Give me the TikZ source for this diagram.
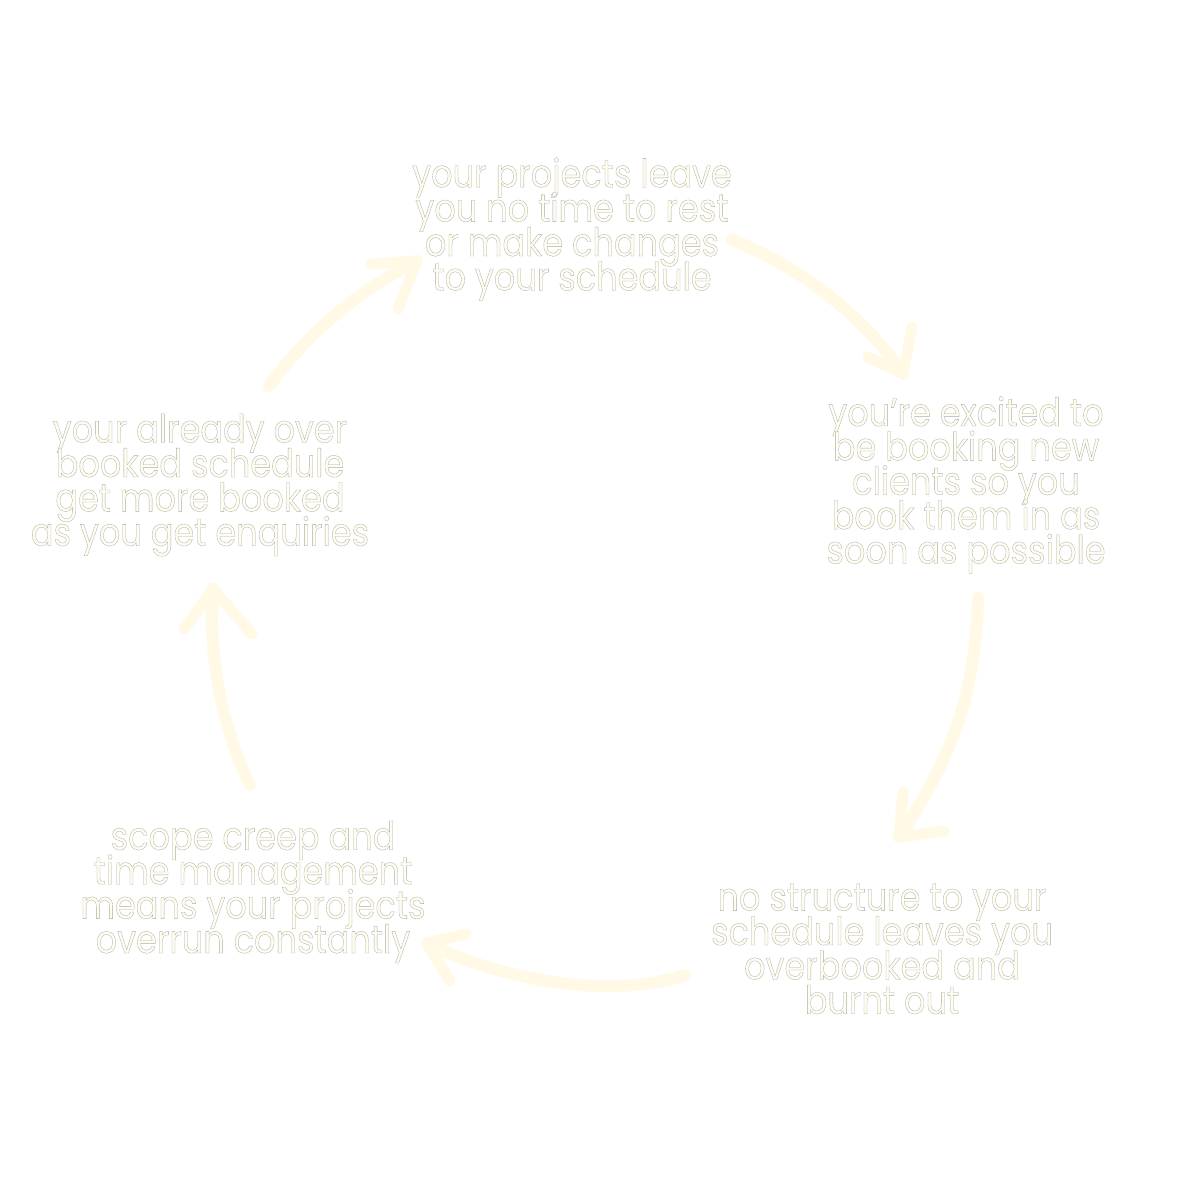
\documentclass[tikz,border=0pt]{standalone}
\usepackage{fontspec}
\setmainfont{Poppins}[FakeStretch=0.86,FakeBold=0.8]
\definecolor{cream}{HTML}{FFFDF0}
\definecolor{brushc}{HTML}{FFF9E6}
\newcommand{\olt}[1]{\textcolor{cream}{\special{pdf:literal direct 0.68 0.68 0.65 RG}#1}}
\newcommand{\tightlines}{\fontsize{19.5pt}{17.2pt}\selectfont\lineskiplimit=-30pt\relax\lineskip=0pt\relax}
\begin{document}
\begin{tikzpicture}[x=0.5pt,y=-0.5pt,
  txt/.style={align=center, inner sep=0pt, font=\tightlines},
  brush/.style={draw=brushc, line width=6pt, line cap=round, line join=round},
  brushhead/.style={draw=brushc, line width=5.5pt, line cap=round, line join=round}]
\useasboundingbox (0,0) rectangle (1200,1200);
\fill[white] (0,0) rectangle (1200,1200);

% text blocks
\node[txt] (t1) at (572,229) {\olt{your projects leave}\\\olt{you no time to rest}\\\olt{or make changes}\\\olt{to your schedule}};
\node[txt] (t2) at (966,485) {\olt{you’re excited to}\\\olt{be booking new}\\\olt{clients so you}\\\olt{book them in as}\\\olt{soon as possible}};
\node[txt] (t3) at (882,949) {\olt{no structure to your}\\\olt{schedule leaves you}\\\olt{overbooked and}\\\olt{burnt out}};
\node[txt] (t4) at (253,892) {\olt{scope creep and}\\\olt{time management}\\\olt{means your projects}\\\olt{overrun constantly}};
\node[txt] (t5) at (200,485) {\olt{your already over}\\\olt{booked schedule}\\\olt{get more booked}\\\olt{as you get enquiries}};

% arrow coordinates
\coordinate (a1s) at (732,240);
\coordinate (a1t) at (903,374);
\coordinate (a1b1) at (912,327);
\coordinate (a1b2) at (868,357);

\coordinate (a2s) at (978,598);
\coordinate (a2t) at (899,837);
\coordinate (a2b1) at (903,792);
\coordinate (a2b2) at (944,831);

\coordinate (a3s) at (685,975);
\coordinate (a3t) at (427,943);
\coordinate (a3b1) at (466,934);
\coordinate (a3b2) at (450,981);

\coordinate (a4s) at (250,785);
\coordinate (a4t) at (213,589);
\coordinate (a4b1) at (184,629);
\coordinate (a4b2) at (252,634);

\coordinate (a5s) at (269,386);
\coordinate (a5t) at (417,261);
\coordinate (a5b1) at (371,264);
\coordinate (a5b2) at (398,309);

% arrows
\draw[brush] (a1s) .. controls (790,262) and (860,310) .. (a1t);
\draw[brushhead] (a1b1) -- (a1t) -- (a1b2);

\draw[brush] (a2s) .. controls (975,700) and (950,760) .. (a2t);
\draw[brushhead] (a2b1) -- (a2t) -- (a2b2);

\draw[brush] (a3s) .. controls (610,1000) and (500,980) .. (a3t);
\draw[brushhead] (a3b1) -- (a3t) -- (a3b2);

\draw[brush] (a4s) .. controls (218,720) and (208,640) .. (a4t);
\draw[brushhead] (a4b1) -- (a4t) -- (a4b2);

\draw[brush] (a5s) .. controls (310,330) and (360,290) .. (a5t);
\draw[brushhead] (a5b1) -- (a5t) -- (a5b2);
\end{tikzpicture}
\end{document}
